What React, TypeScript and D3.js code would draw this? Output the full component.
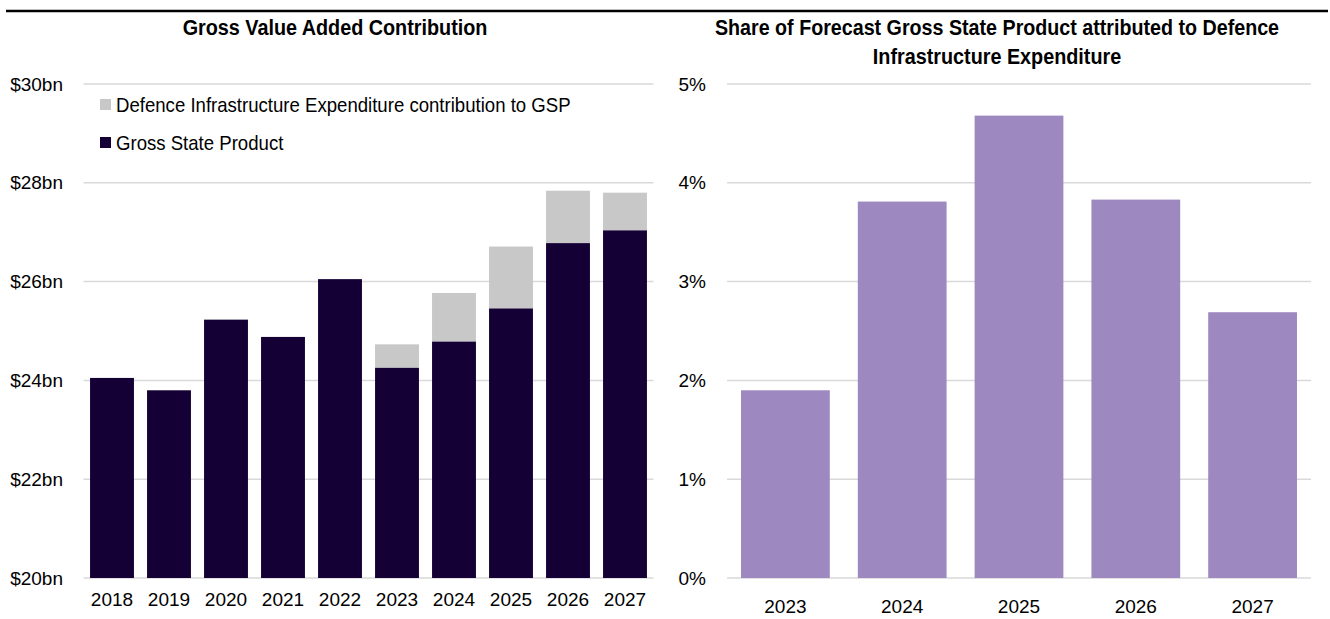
import React from "react";
import * as d3 from "d3";

const years = ["2018", "2019", "2020", "2021", "2022", "2023", "2024", "2025", "2026", "2027"];
const gspValues = [24.05, 23.8, 25.23, 24.88, 26.05, 24.26, 24.79, 25.46, 26.78, 27.04];
const defenceContribution = [0, 0, 0, 0, 0, 0.47, 0.98, 1.25, 1.06, 0.76];
const leftTicks = [20, 22, 24, 26, 28, 30];

const shareYears = ["2023", "2024", "2025", "2026", "2027"];
const shareValues = [1.9, 3.81, 4.68, 3.83, 2.69];
const rightTicks = [0, 1, 2, 3, 4, 5];

const FONT = "'Liberation Sans Narrow', 'Arial Narrow', 'Liberation Sans', Arial, sans-serif";
const DARK = "#150035";
const GREY = "#c8c8c8";
const PURPLE = "#9e88c0";
const GRID = "#d9d9d9";

function Squeezed({ x, y, sx, children, ...rest }: any) {
  return (
    <text transform={`translate(${x},${y}) scale(${sx},1)`} {...rest}>
      {children}
    </text>
  );
}

export default function App() {
  const W = 1330, H = 619;
  const yL = d3.scaleLinear().domain([20, 30]).range([578, 84]);
  const xL = d3.scaleBand().domain(years).range([83.5, 653.5]).paddingInner(0.23).paddingOuter(0.115);
  const yR = d3.scaleLinear().domain([0, 5]).range([578, 84]);
  const xR = d3.scaleBand().domain(shareYears).range([727, 1311]).paddingInner(0.24).paddingOuter(0.12);

  return (
    <svg width={W} height={H} style={{ position: "absolute", left: 0, top: 0, fontFamily: FONT }}>
      <rect width={W} height={H} fill="#fff" />
      <line x1={6} x2={1328} y1={11} y2={11} stroke="#000" strokeWidth={2.5} />

      {/* Left chart */}
      <Squeezed x={335} y={35} sx={0.9} textAnchor="middle" fontWeight="bold" fontSize={22}>Gross Value Added Contribution</Squeezed>
      {leftTicks.map((t) => (
        <g key={t}>
          <line x1={83.5} x2={653.5} y1={yL(t)} y2={yL(t)} stroke={GRID} strokeWidth={1.5} />
          <text x={63} y={yL(t)} dy="0.35em" textAnchor="end" fontSize={19}>{"$" + t + "bn"}</text>
        </g>
      ))}
      {years.map((yr, i) => {
        const x = xL(yr)!;
        const w = xL.bandwidth();
        const g = gspValues[i];
        const d = defenceContribution[i];
        return (
          <g key={yr}>
            <rect x={x} y={yL(g)} width={w} height={yL(20) - yL(g)} fill={DARK} />
            {d > 0 && <rect x={x} y={yL(g + d)} width={w} height={yL(g) - yL(g + d)} fill={GREY} />}
            <text x={x + w / 2} y={606} textAnchor="middle" fontSize={19}>{yr}</text>
          </g>
        );
      })}
      {/* legend */}
      <rect x={100} y={99} width={11} height={11} fill={GREY} />
      <Squeezed x={116} y={104.5} sx={0.93} dy="0.35em" fontSize={20}>Defence Infrastructure Expenditure contribution to GSP</Squeezed>
      <rect x={100} y={137} width={11} height={11} fill={DARK} />
      <Squeezed x={116} y={142.5} sx={0.93} dy="0.35em" fontSize={20}>Gross State Product</Squeezed>

      {/* Right chart */}
      <Squeezed x={997} y={35} sx={0.895} textAnchor="middle" fontWeight="bold" fontSize={22}>Share of Forecast Gross State Product attributed to Defence</Squeezed>
      <Squeezed x={997} y={64} sx={0.9} textAnchor="middle" fontWeight="bold" fontSize={22}>Infrastructure Expenditure</Squeezed>
      {rightTicks.map((t) => (
        <g key={t}>
          <line x1={727} x2={1311} y1={yR(t)} y2={yR(t)} stroke={GRID} strokeWidth={1.5} />
          <text x={706} y={yR(t)} dy="0.35em" textAnchor="end" fontSize={19}>{t + "%"}</text>
        </g>
      ))}
      {shareYears.map((yr, i) => {
        const x = xR(yr)!;
        const w = xR.bandwidth();
        return (
          <g key={yr}>
            <rect x={x} y={yR(shareValues[i])} width={w} height={yR(0) - yR(shareValues[i])} fill={PURPLE} />
            <text x={x + w / 2} y={613} textAnchor="middle" fontSize={19}>{yr}</text>
          </g>
        );
      })}
    </svg>
  );
}
